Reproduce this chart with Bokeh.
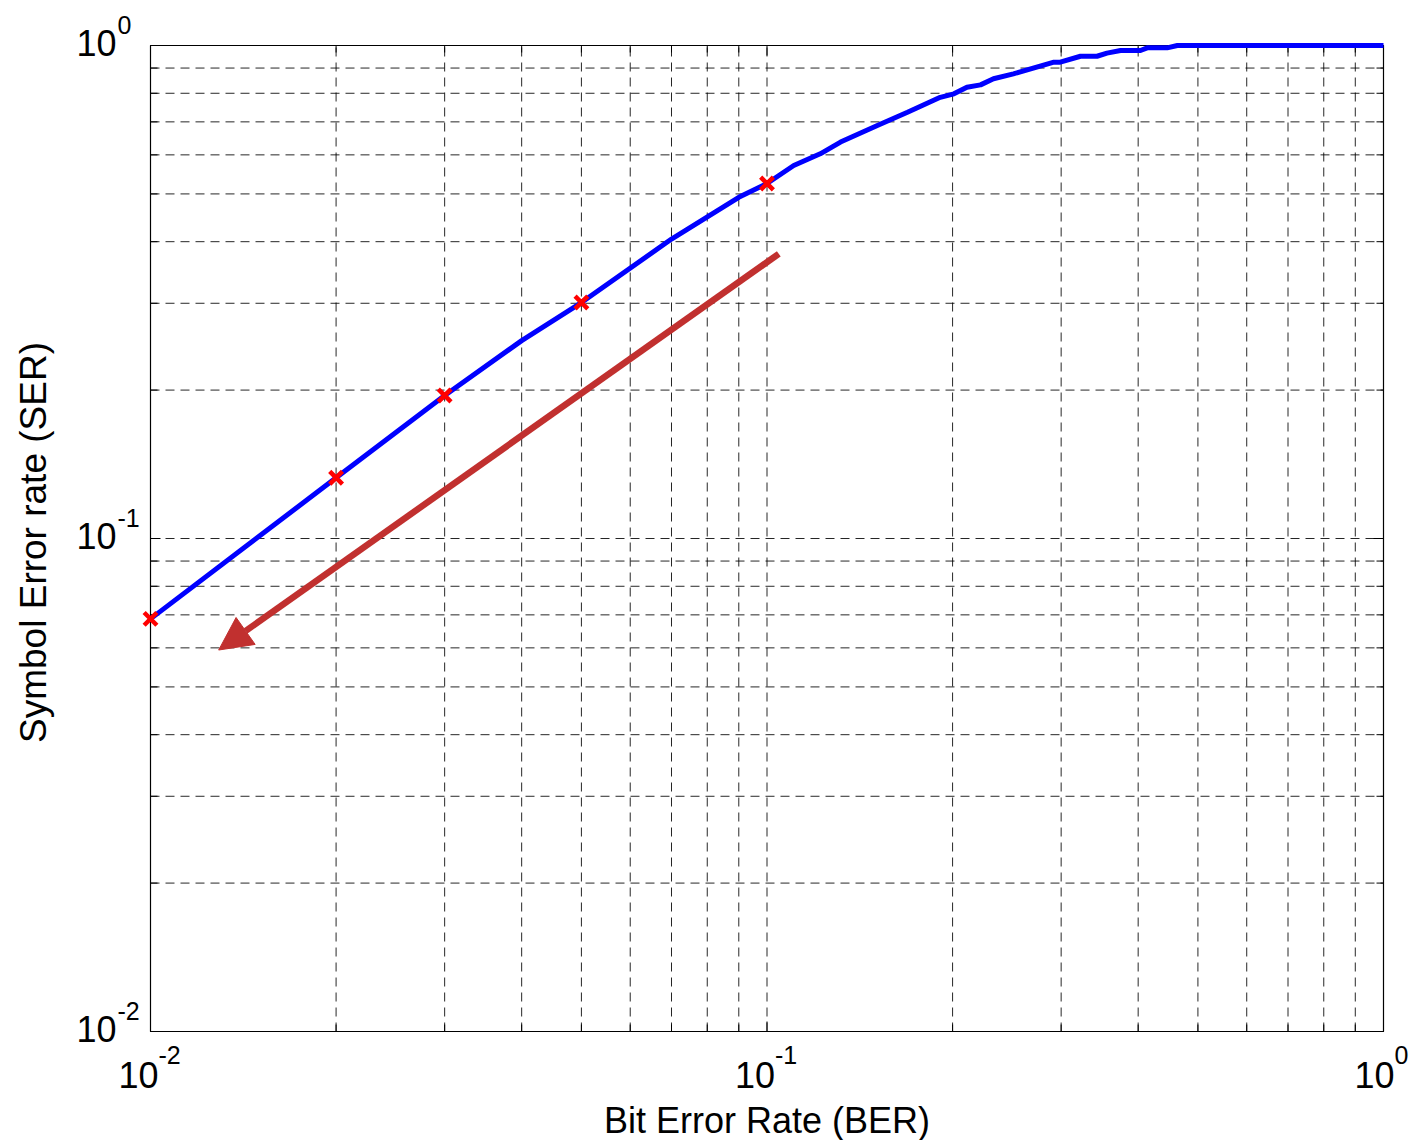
import math
from bokeh.plotting import figure
from bokeh.models import Range1d, Label, Arrow, NormalHead
from bokeh.embed import file_html
from bokeh.resources import INLINE

# ---------------- data ----------------
ber = [0.01, 0.02, 0.03, 0.04, 0.05, 0.07, 0.09, 0.1, 0.1105, 0.122, 0.1316,
       0.151, 0.169, 0.191, 0.201, 0.211, 0.222, 0.233, 0.251, 0.292, 0.299,
       0.3225, 0.343, 0.356, 0.3745, 0.4035, 0.4137, 0.4457, 0.463, 1.0]
ser = [0.0687, 0.1328, 0.195, 0.252, 0.301, 0.405, 0.492, 0.525, 0.571, 0.603,
       0.637, 0.688, 0.732, 0.785, 0.798, 0.823, 0.832, 0.856, 0.876, 0.925,
       0.925, 0.951, 0.951, 0.965, 0.977, 0.977, 0.989, 0.989, 1.0, 1.0]
marker_ber = [0.01, 0.02, 0.03, 0.05, 0.1]
marker_ser = [0.0687, 0.1328, 0.195, 0.301, 0.525]

x_lo, x_hi = 0.01, 1.0
y_lo, y_hi = 0.01, 1.0
major_ticks = [0.01, 0.1, 1.0]
minor_ticks = [m * 10.0 ** e for e in (-2, -1) for m in range(2, 10)]
tick_exponents = ["-2", "-1", "0"]

arrow_start = (0.1045, 0.378)
arrow_end = (0.0129, 0.0594)

x_label = "Bit Error Rate (BER)"
y_label = "Symbol Error rate (SER)"

# ---------------- layout (pixels) ----------------
W, H = 1409, 1140
BOX_L, BOX_R, BOX_T, BOX_B = 150, 1383, 45, 1031
FONT = "Liberation Sans"
ARROW_COLOR = "#C1302F"
GRID_COLOR = "#000000"

ppd_x = (BOX_R - BOX_L) / (math.log10(x_hi) - math.log10(x_lo))
ppd_y = (BOX_B - BOX_T) / (math.log10(y_hi) - math.log10(y_lo))
x_range = Range1d(10 ** (math.log10(x_lo) - BOX_L / ppd_x),
                  10 ** (math.log10(x_hi) + (W - BOX_R) / ppd_x))
y_range = Range1d(10 ** (math.log10(y_lo) - (H - BOX_B) / ppd_y),
                  10 ** (math.log10(y_hi) + BOX_T / ppd_y))

p = figure(x_axis_type="log", y_axis_type="log", x_range=x_range, y_range=y_range,
           width=W, height=H, min_border=0,
           x_axis_location=None, y_axis_location=None,
           output_backend="svg", toolbar_location=None,
           background_fill_color="white", border_fill_color="white")
p.outline_line_color = None
for g in p.grid:
    g.visible = False

all_ticks = major_ticks + minor_ticks
n = len(all_ticks)

# dashed grid (major + minor)
p.segment(x0=all_ticks, y0=[y_lo] * n, x1=all_ticks, y1=[y_hi] * n,
          line_color=GRID_COLOR, line_dash="9 6", line_width=1, line_alpha=0.85)
p.segment(x0=[x_lo] * n, y0=all_ticks, x1=[x_hi] * n, y1=all_ticks,
          line_color=GRID_COLOR, line_dash="9 6", line_width=1, line_alpha=0.85)

# inward ticks on all four sides
for ticks, ln in ((major_ticks, 10), (minor_ticks, 7)):
    k = len(ticks)
    p.ray(x=ticks, y=[y_lo] * k, length=ln, length_units="screen",
          angle=math.pi / 2, line_color="black", line_width=1)
    p.ray(x=ticks, y=[y_hi] * k, length=ln, length_units="screen",
          angle=-math.pi / 2, line_color="black", line_width=1)
    p.ray(x=[x_lo] * k, y=ticks, length=ln, length_units="screen",
          angle=0, line_color="black", line_width=1)
    p.ray(x=[x_hi] * k, y=ticks, length=ln, length_units="screen",
          angle=math.pi, line_color="black", line_width=1)

# axes box
p.quad(left=[x_lo], right=[x_hi], bottom=[y_lo], top=[y_hi],
       fill_color=None, line_color="black", line_width=1.2)

# ---------------- series ----------------
p.line(ber, ser, line_color="#0000FF", line_width=5)
p.scatter(marker_ber, marker_ser, marker="x", size=18,
          line_color="#FF0000", line_width=4.5)

arrow = Arrow(end=NormalHead(size=33, fill_color=ARROW_COLOR,
                             line_color=ARROW_COLOR, line_width=1),
              x_start=arrow_start[0], y_start=arrow_start[1],
              x_end=arrow_end[0], y_end=arrow_end[1],
              line_color=ARROW_COLOR, line_width=6.5)
p.add_layout(arrow)

# ---------------- tick labels: 10 with superscript exponent ----------------
for t, e in zip(major_ticks, tick_exponents):
    d = 8 if len(e) == 2 else 11
    p.add_layout(Label(x=t, y=y_lo, text="10", text_align="right",
                       text_baseline="alphabetic", x_offset=d, y_offset=-43,
                       text_font=FONT, text_font_size="36px", text_color="black"))
    p.add_layout(Label(x=t, y=y_lo, text=e, text_align="left",
                       text_baseline="alphabetic", x_offset=d, y_offset=-23,
                       text_font=FONT, text_font_size="25px", text_color="black"))
    p.add_layout(Label(x=x_lo, y=t, text="10", text_align="right",
                       text_baseline="alphabetic", x_offset=-34, y_offset=3,
                       text_font=FONT, text_font_size="36px", text_color="black"))
    p.add_layout(Label(x=x_lo, y=t, text=e, text_align="left",
                       text_baseline="alphabetic", x_offset=-33, y_offset=21,
                       text_font=FONT, text_font_size="25px", text_color="black"))

# ---------------- axis titles ----------------
x_mid = math.sqrt(x_lo * x_hi)
y_mid = math.sqrt(y_lo * y_hi)
p.add_layout(Label(x=x_mid, y=y_lo, text=x_label, text_align="center",
                   text_baseline="alphabetic", y_offset=-89,
                   text_font=FONT, text_font_size="36px", text_color="black"))
p.add_layout(Label(x=x_lo, y=y_mid, text=y_label, text_align="center",
                   text_baseline="alphabetic", x_offset=-117, y_offset=-4,
                   angle=math.pi / 2,
                   text_font=FONT, text_font_size="37px", text_color="black"))

open("out.html", "w").write(file_html(p, INLINE))
